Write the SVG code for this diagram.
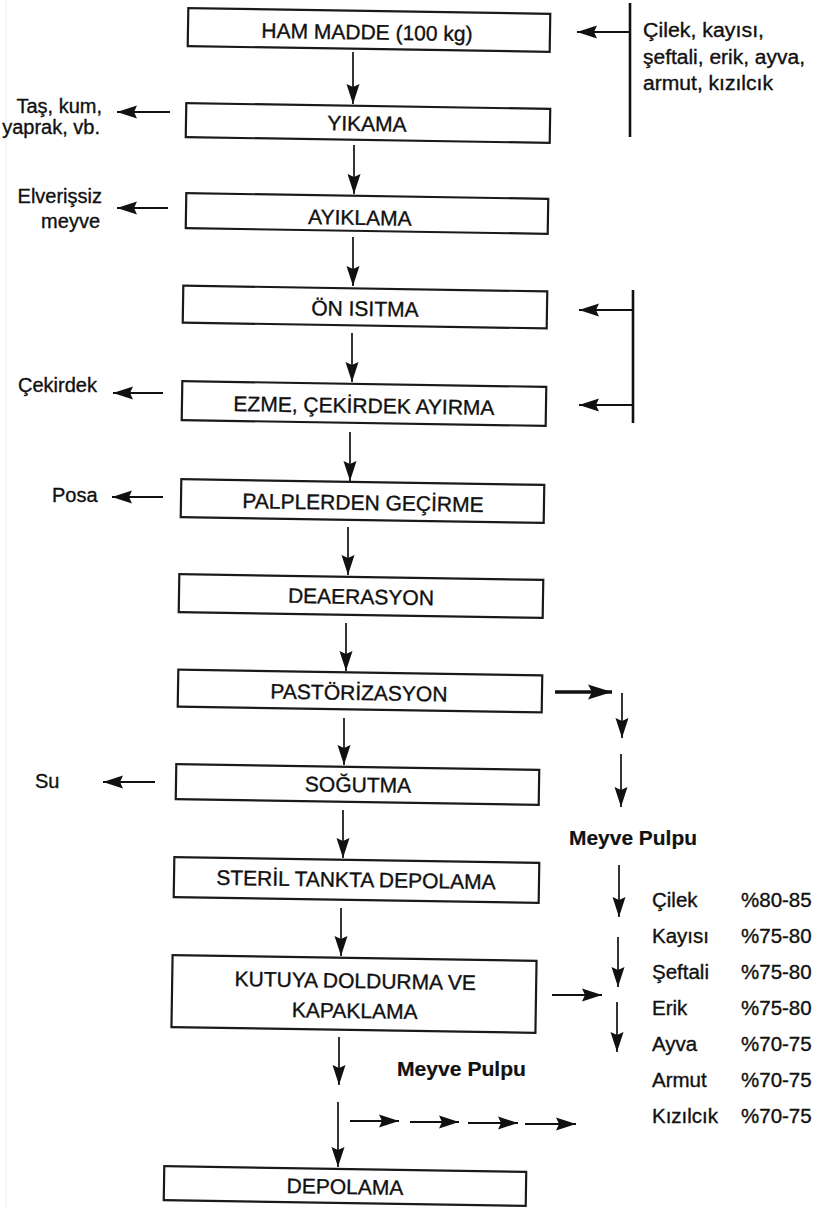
<svg xmlns="http://www.w3.org/2000/svg" width="815" height="1207" viewBox="0 0 815 1207">
<defs>
<style>
.box rect{fill:#fff;stroke:#1a1a1a;stroke-width:2.2}
.t{font-family:"Liberation Sans",Arial,Helvetica,sans-serif;fill:#111;stroke:#111;stroke-width:0.35}
.lbl{font-size:21px;text-anchor:middle}
.side{font-size:20px}
.bold{font-size:21px;font-weight:bold;stroke-width:0.2}
.con line{stroke:#111;stroke-width:1.7;marker-end:url(#ah)}
.con line.h{stroke-width:2.2}
.con line.thick{stroke-width:3.4;marker-end:url(#ahb)}
.con line.bar{stroke-width:2.6;marker-end:none}
</style>
<marker id="ah" markerUnits="userSpaceOnUse" markerWidth="22" markerHeight="16" viewBox="0 -8 22 16" refX="20" refY="0" orient="auto">
<path d="M20,0 L0,-6.5 L3,0 L0,6.5 Z" fill="#111"/>
</marker>
<marker id="ahb" markerUnits="userSpaceOnUse" markerWidth="26" markerHeight="18" viewBox="0 -9 26 18" refX="24" refY="0" orient="auto">
<path d="M24,0 L0,-7.5 L4,0 L0,7.5 Z" fill="#111"/>
</marker>
</defs>
<rect x="0" y="0" width="815" height="1207" fill="#fff"/>
<line x1="6" y1="0" x2="6" y2="1207" stroke="#ececec" stroke-width="1"/>

<g id="n-hammadde" class="box" transform="rotate(0.9 369 30)">
<rect x="188" y="11" width="362" height="38"/>
<text class="t lbl" x="367" y="39.5">HAM MADDE (100 kg)</text>
</g>
<g id="n-yikama" class="box" transform="rotate(0.9 368 123)">
<rect x="186" y="106" width="364" height="34"/>
<text class="t lbl" x="367" y="131">YIKAMA</text>
</g>
<g id="n-ayiklama" class="box" transform="rotate(0.9 367 213.5)">
<rect x="186" y="196" width="362" height="35"/>
<text class="t lbl" x="360" y="225">AYIKLAMA</text>
</g>
<g id="n-onisitma" class="box" transform="rotate(0.9 365 307)">
<rect x="183" y="288.5" width="364" height="37"/>
<text class="t lbl" x="365" y="316">ÖN ISITMA</text>
</g>
<g id="n-ezme" class="box" transform="rotate(0.9 364 403.5)">
<rect x="182" y="384" width="364" height="39"/>
<text class="t lbl" x="364" y="413">EZME, ÇEKİRDEK AYIRMA</text>
</g>
<g id="n-palp" class="box" transform="rotate(0.9 362.5 501)">
<rect x="181" y="482" width="363" height="38"/>
<text class="t lbl" x="363" y="510">PALPLERDEN GEÇİRME</text>
</g>
<g id="n-deaerasyon" class="box" transform="rotate(0.9 361 596)">
<rect x="179" y="577" width="364" height="38"/>
<text class="t lbl" x="361" y="604">DEAERASYON</text>
</g>
<g id="n-pastorizasyon" class="box" transform="rotate(0.9 360 691)">
<rect x="178" y="672.5" width="364" height="37"/>
<text class="t lbl" x="359" y="700">PASTÖRİZASYON</text>
</g>
<g id="n-sogutma" class="box" transform="rotate(0.9 357.5 784.5)">
<rect x="176" y="767" width="363" height="35"/>
<text class="t lbl" x="358" y="792">SOĞUTMA</text>
</g>
<g id="n-steril" class="box" transform="rotate(0.9 356.5 880)">
<rect x="174" y="860" width="365" height="40"/>
<text class="t lbl" x="356" y="887">STERİL TANKTA DEPOLAMA</text>
</g>
<g id="n-kutuya" class="box" transform="rotate(0.9 354 994)">
<rect x="172" y="958" width="364" height="72"/>
<text class="t lbl" x="355" y="988">KUTUYA DOLDURMA VE</text>
<text class="t lbl" x="355" y="1018">KAPAKLAMA</text>
</g>
<g id="n-depolama" class="box" transform="rotate(0.9 345 1186)">
<rect x="164" y="1169" width="362" height="34"/>
<text class="t lbl" x="345" y="1194">DEPOLAMA</text>
</g>

<g id="n-inputs" class="t side">
<text x="643" y="37" textLength="121" lengthAdjust="spacingAndGlyphs">Çilek, kayısı,</text>
<text x="643" y="63.5" textLength="162" lengthAdjust="spacingAndGlyphs">şeftali, erik, ayva,</text>
<text x="643" y="90" textLength="130" lengthAdjust="spacingAndGlyphs">armut, kızılcık</text>
</g>
<g id="n-tas" class="t side" text-anchor="end">
<text x="102" y="113">Taş, kum,</text>
<text x="100" y="134">yaprak, vb.</text>
</g>
<g id="n-elverissiz" class="t side" text-anchor="end">
<text x="102" y="203">Elverişsiz</text>
<text x="100" y="228">meyve</text>
</g>
<g id="n-cekirdek" class="t side"><text x="18" y="392">Çekirdek</text></g>
<g id="n-posa" class="t side"><text x="52" y="502">Posa</text></g>
<g id="n-su" class="t side"><text x="35" y="788">Su</text></g>
<g id="n-pulp1" class="t bold"><text x="569" y="845" textLength="128" lengthAdjust="spacingAndGlyphs">Meyve Pulpu</text></g>
<g id="n-pulp2" class="t bold"><text x="397" y="1076" textLength="129" lengthAdjust="spacingAndGlyphs">Meyve Pulpu</text></g>
<g id="n-list" class="t" font-size="20.5">
<text x="652" y="907">Çilek</text><text x="741" y="907">%80-85</text>
<text x="652" y="943">Kayısı</text><text x="741" y="943">%75-80</text>
<text x="652" y="979">Şeftali</text><text x="741" y="979">%75-80</text>
<text x="652" y="1015">Erik</text><text x="741" y="1015">%75-80</text>
<text x="652" y="1051">Ayva</text><text x="741" y="1051">%70-75</text>
<text x="652" y="1087">Armut</text><text x="741" y="1087">%70-75</text>
<text x="652" y="1123">Kızılcık</text><text x="741" y="1123">%70-75</text>
</g>

<g id="connectors" class="con">
<line x1="353" y1="52" x2="353" y2="104"/>
<line x1="354" y1="145" x2="354" y2="194"/>
<line x1="353" y1="237" x2="353" y2="286"/>
<line x1="352" y1="333" x2="352" y2="382"/>
<line x1="350" y1="432" x2="350" y2="481"/>
<line x1="348" y1="527" x2="348" y2="575"/>
<line x1="346" y1="623" x2="346" y2="671"/>
<line x1="344" y1="718" x2="344" y2="765"/>
<line x1="343" y1="810" x2="343" y2="858"/>
<line x1="341" y1="908" x2="341" y2="956"/>
<line x1="339" y1="1037" x2="339" y2="1085"/>
<line x1="338" y1="1102" x2="338" y2="1167"/>

<line class="h" x1="170" y1="112" x2="117" y2="112"/>
<line class="h" x1="168" y1="208" x2="117" y2="208"/>
<line class="h" x1="163" y1="393" x2="113" y2="393"/>
<line class="h" x1="163" y1="497" x2="112" y2="497"/>
<line class="h" x1="155" y1="782" x2="103" y2="782"/>

<line class="bar" x1="630" y1="3" x2="630" y2="137"/>
<line class="h" x1="629" y1="32" x2="577" y2="32"/>
<line class="bar" x1="633" y1="290" x2="633" y2="423"/>
<line class="h" x1="632" y1="310" x2="579" y2="310"/>
<line class="h" x1="632" y1="405" x2="579" y2="405"/>

<line class="thick" x1="555" y1="692" x2="612" y2="692"/>
<line x1="622" y1="693" x2="622" y2="738"/>
<line x1="621" y1="754" x2="621" y2="807"/>
<line x1="619" y1="865" x2="619" y2="917"/>
<line x1="618" y1="937" x2="618" y2="987"/>
<line x1="617" y1="1002" x2="617" y2="1052"/>
<line class="h" x1="552" y1="995" x2="602" y2="995"/>

<line class="h" x1="350" y1="1121" x2="399" y2="1121"/>
<line class="h" x1="410" y1="1122" x2="459" y2="1122"/>
<line class="h" x1="468" y1="1123" x2="518" y2="1123"/>
<line class="h" x1="525" y1="1124" x2="576" y2="1124"/>
</g>
</svg>
